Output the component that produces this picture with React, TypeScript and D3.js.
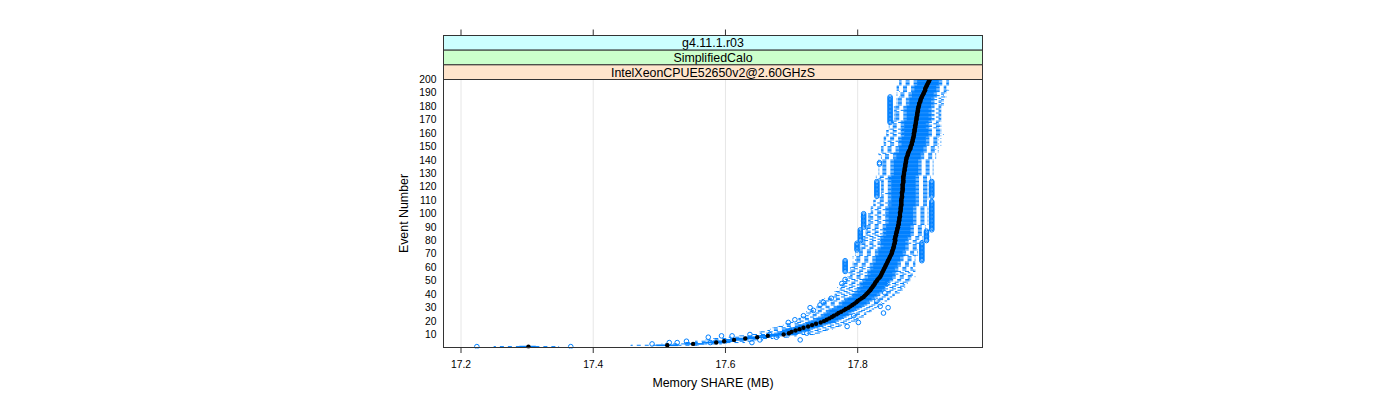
import React from "react";
import * as d3 from "d3";

// Median memory SHARE (MB) for event numbers 1..200
const medians: number[] = [
  17.302, 17.512, 17.551, 17.586, 17.598, 17.613, 17.630, 17.648, 17.664, 17.688,
  17.696, 17.700, 17.706, 17.712, 17.718, 17.725, 17.731, 17.737, 17.744, 17.749,
  17.753, 17.757, 17.761, 17.764, 17.768, 17.771, 17.775, 17.779, 17.782, 17.786,
  17.789, 17.792, 17.795, 17.798, 17.800, 17.803, 17.806, 17.809, 17.811, 17.813,
  17.815, 17.817, 17.819, 17.820, 17.822, 17.823, 17.825, 17.826, 17.827, 17.829,
  17.830, 17.832, 17.834, 17.835, 17.836, 17.837, 17.838, 17.839, 17.840, 17.841,
  17.842, 17.843, 17.844, 17.845, 17.846, 17.847, 17.848, 17.849, 17.850, 17.851,
  17.852, 17.852, 17.853, 17.854, 17.854, 17.855, 17.855, 17.856, 17.856, 17.857,
  17.856, 17.857, 17.857, 17.858, 17.858, 17.859, 17.859, 17.860, 17.860, 17.861,
  17.861, 17.862, 17.862, 17.862, 17.863, 17.863, 17.863, 17.864, 17.864, 17.864,
  17.864, 17.865, 17.865, 17.865, 17.865, 17.866, 17.866, 17.866, 17.866, 17.866,
  17.866, 17.867, 17.867, 17.867, 17.867, 17.867, 17.868, 17.868, 17.868, 17.868,
  17.868, 17.868, 17.869, 17.869, 17.869, 17.869, 17.869, 17.869, 17.870, 17.870,
  17.870, 17.871, 17.871, 17.871, 17.872, 17.872, 17.872, 17.873, 17.873, 17.873,
  17.874, 17.874, 17.875, 17.876, 17.876, 17.877, 17.878, 17.879, 17.880, 17.880,
  17.881, 17.882, 17.882, 17.883, 17.883, 17.884, 17.884, 17.885, 17.885, 17.885,
  17.886, 17.886, 17.886, 17.887, 17.887, 17.887, 17.888, 17.888, 17.888, 17.889,
  17.889, 17.889, 17.890, 17.890, 17.890, 17.891, 17.891, 17.891, 17.892, 17.892,
  17.893, 17.893, 17.894, 17.895, 17.895, 17.896, 17.897, 17.898, 17.899, 17.900,
  17.901, 17.902, 17.902, 17.903, 17.904, 17.905, 17.906, 17.907, 17.908, 17.909,
];

// Distances from the median, in 4 KB pages
const loSteps: number[] = [
  13,14,12,12,11,11,12,11,11,12, 11,12,11,11,12,12,11,12,11,11,
  11,12,12,11,11,12,13,12,11,12, 13,12,13,14,15,15,14,13,12,12,
  12,13,12,12,13,12,13,12,12,13, 12,13,13,12,12,13,13,13,13,13,
  13,13,13,13,13,13,14,14,14,14, 14,14,13,13,13,13,13,13,13,12,
  12,12,12,12,12,12,12,12,12,12, 12,12,12,12,12,12,12,12,12,12,
  11,11,11,11,11,11,11,11,11,11, 10,9,8,8,8,8,8,8,8,8,
  8,8,8,8,9,9,10,10,10,10, 10,10,10,10,10,10,9,9,10,10,
  10,10,10,11,11,11,11,11,11,11, 11,11,11,11,11,11,11,11,11,11,
  11,11,10,10,10,10,10,9,9,9, 9,9,9,9,9,9,9,9,9,9,
  9,9,9,9,9,9,9,10,10,10, 10,11,11,11,11,11,11,11,11,11,
];
const q1Steps: number[] = [
  3,4,3,4,4,3,4,4,3,4, 4,4,4,5,4,4,5,4,4,5,
  4,5,4,4,5,4,4,5,5,4, 5,4,5,5,5,5,5,4,4,5,
  4,5,4,5,4,4,5,4,5,4, 5,4,5,5,4,5,5,5,4,5,
  5,5,5,4,5,5,5,5,5,5, 5,5,5,5,5,4,5,5,5,4,
  5,4,5,4,5,4,4,5,4,4, 4,5,4,4,5,4,4,4,5,4,
  4,4,5,4,4,4,4,5,4,4, 4,4,4,4,5,4,4,4,4,4,
  4,4,4,4,4,5,4,4,4,4, 4,4,4,4,4,4,4,4,4,4,
  4,4,4,4,5,4,4,4,4,4, 4,4,4,5,4,4,4,4,4,5,
  4,4,5,4,4,4,4,5,4,4, 4,4,4,4,4,4,5,4,4,4,
  4,4,4,4,4,4,4,4,4,4, 4,4,4,4,4,4,4,4,4,4,
];
const q3Steps: number[] = [
  3,4,4,4,3,4,4,4,4,4, 4,4,4,4,4,4,4,4,5,4,
  4,4,4,4,4,4,4,4,4,4, 4,4,4,4,4,4,4,4,4,4,
  4,4,4,5,4,4,5,4,4,5, 5,5,4,4,5,4,5,4,4,4,
  4,4,4,4,4,4,4,4,5,4, 4,4,5,4,4,4,4,5,4,4,
  5,5,5,5,5,5,5,5,5,5, 5,5,5,5,5,5,5,5,5,5,
  5,5,5,5,5,5,5,5,5,5, 5,5,5,5,5,5,5,5,5,5,
  5,5,5,5,5,5,5,5,5,5, 5,5,5,5,5,5,5,5,5,5,
  5,5,5,5,5,5,5,5,5,5, 5,5,5,5,5,5,5,5,5,5,
  5,5,5,4,5,5,4,5,5,5, 5,4,5,5,4,5,5,4,5,5,
  4,5,4,4,5,4,4,5,4,4, 4,4,4,4,4,4,4,4,4,4,
];
const hiSteps: number[] = [
  12,12,11,11,11,11,11,12,11,12, 12,12,12,13,12,12,13,12,12,12,
  12,11,12,11,11,11,12,11,11,11, 11,11,11,10,11,11,11,11,11,11,
  12,11,12,12,13,12,12,13,12,13, 13,12,13,12,12,11,12,12,11,11,
  11,11,11,11,10,10,10,10,10,10, 10,10,10,10,10,10,10,10,10,11,
  11,11,11,11,11,11,11,11,11,11, 11,11,11,11,11,11,11,11,11,11,
  11,11,11,11,11,11,11,11,11,11, 10,10,10,10,10,10,10,10,10,10,
  10,10,10,10,11,11,11,11,11,11, 11,11,11,11,11,11,11,11,11,11,
  11,11,11,11,11,11,11,10,11,11, 11,10,11,11,10,11,10,10,11,10,
  10,10,10,9,10,10,9,9,10,9, 9,9,9,9,9,9,9,9,9,9,
  9,9,8,9,9,8,9,8,8,9, 8,9,8,8,8,8,8,8,8,8,
];

// Outliers repeated over consecutive events: [firstEvent, lastEvent, value]
const outlierRuns: [number, number, number][] = [
  [168, 187, 17.849], [137, 138, 17.833], [113, 124, 17.829], [113, 124, 17.912],
  [88, 109, 17.912], [80, 87, 17.904], [65, 78, 17.897], [90, 100, 17.809],
  [80, 88, 17.804], [73, 78, 17.799], [57, 65, 17.781],
];
// Single outliers: [event, value]
const outlierPoints: [number, number][] = [
  [1, 17.224], [1, 17.366], [3, 17.489], [4, 17.515], [4, 17.527], [5, 17.541],
  [4, 17.577], [8, 17.574], [9, 17.594], [9, 17.610], [10, 17.637], [4, 17.640],
  [6, 17.652], [10, 17.667], [8, 17.677], [13, 17.698], [6, 17.713], [11, 17.723],
  [19, 17.695], [21, 17.705], [24, 17.718], [28, 17.733], [30, 17.728], [32, 17.743],
  [34, 17.748], [37, 17.760], [48, 17.776], [51, 17.781], [16, 17.784], [19, 17.801],
  [24, 17.794], [26, 17.839], [30, 17.846], [31, 17.834], [35, 17.829], [41, 17.841],
  [48, 17.844],
];

const xTicks = [17.2, 17.4, 17.6, 17.8];
const yTicks = [10, 20, 30, 40, 50, 60, 70, 80, 90, 100, 110, 120, 130, 140, 150, 160, 170, 180, 190, 200];
const stripLabels = ["g4.11.1.r03", "SimplifiedCalo", "IntelXeonCPUE52650v2@2.60GHzS"];
const stripColors = ["#ccffff", "#ccffcc", "#ffe5cc"];
const xTitle = "Memory SHARE (MB)";
const yTitle = "Event Number";

const W = 1400;
const H = 400;
const PL = 443.5, PR = 982.5, PT = 79.5, PB = 347.5;
const STRIP_TOP = 35.5;
const FONT = "'Liberation Sans', Arial, Helvetica, sans-serif";
const BLUE = "#0080ff";
const PAGE = 4 / 1024;

export default function App() {
  const x = d3.scaleLinear().domain([17.2, 17.8]).range([461, 857.7]);
  const y = d3.scaleLinear().domain([1, 200]).range([346.6, 79.5]);
  const boxH = 0.5 * Math.abs(y(1) - y(2));
  const qz = (v: number) => Math.round(v / PAGE) * PAGE;

  const stats = medians.map((m, i) => ({
    ev: i + 1,
    med: m,
    lo: qz(m - loSteps[i] * PAGE),
    q1: qz(m - q1Steps[i] * PAGE),
    q3: qz(m + q3Steps[i] * PAGE),
    hi: qz(m + hiSteps[i] * PAGE),
  }));

  const outliers: [number, number][] = [...outlierPoints];
  outlierRuns.forEach(([a, b, v]) => {
    for (let e = a; e <= b; e++) outliers.push([e, v]);
  });

  const stripH = (PT - STRIP_TOP) / 3;

  return (
    <svg width={W} height={H} style={{ position: "absolute", left: 0, top: 0 }} fontFamily={FONT}>
      <rect x={0} y={0} width={W} height={H} fill="#fff" />
      <defs>
        <clipPath id="panelClip">
          <rect x={PL} y={PT} width={PR - PL} height={PB - PT + 1} />
        </clipPath>
      </defs>
      {/* grid */}
      {xTicks.map((t) => (
        <line key={"g" + t} x1={x(t)} x2={x(t)} y1={PT} y2={PB} stroke="#e6e6e6" strokeWidth={1} />
      ))}
      <g clipPath="url(#panelClip)">
        {stats.map((s) => (
          <g key={"w" + s.ev}>
            <line x1={x(s.q1)} x2={x(s.lo)} y1={y(s.ev)} y2={y(s.ev)} stroke={BLUE} strokeWidth={1} strokeDasharray="4,4" />
            <line x1={x(s.q3)} x2={x(s.hi)} y1={y(s.ev)} y2={y(s.ev)} stroke={BLUE} strokeWidth={1} strokeDasharray="4,4" />
            <line x1={x(s.lo)} x2={x(s.lo)} y1={y(s.ev) - boxH / 2} y2={y(s.ev) + boxH / 2} stroke={BLUE} strokeWidth={1} />
            <line x1={x(s.hi)} x2={x(s.hi)} y1={y(s.ev) - boxH / 2} y2={y(s.ev) + boxH / 2} stroke={BLUE} strokeWidth={1} />
          </g>
        ))}
        {stats.map((s) => (
          <rect key={"b" + s.ev} x={x(s.q1)} y={y(s.ev) - boxH / 2} width={x(s.q3) - x(s.q1)} height={boxH}
            fill="none" stroke={BLUE} strokeWidth={1} />
        ))}
        {outliers.map(([e, v], i) => (
          <circle key={"o" + i} cx={x(v)} cy={y(e)} r={2.3} fill="none" stroke={BLUE} strokeWidth={1} />
        ))}
        {stats.map((s) => (
          <circle key={"m" + s.ev} cx={x(s.med)} cy={y(s.ev)} r={2.2} fill="#000" />
        ))}
      </g>
      {/* panel border */}
      <rect x={PL} y={PT} width={PR - PL} height={PB - PT} fill="none" stroke="#333" strokeWidth={1} />
      {/* strips */}
      {stripLabels.map((lab, i) => {
        const top = STRIP_TOP + i * stripH;
        return (
          <g key={"s" + i}>
            <rect x={PL} y={top} width={PR - PL} height={stripH} fill={stripColors[i]} stroke="#333" strokeWidth={1} />
            <text x={(PL + PR) / 2} y={top + stripH / 2 + 0.5} textAnchor="middle" dominantBaseline="central" fontSize={12.4} fill="#000">
              {lab}
            </text>
          </g>
        );
      })}
      {/* bottom axis */}
      {xTicks.map((t) => (
        <g key={"xt" + t}>
          <line x1={x(t)} x2={x(t)} y1={PB} y2={PB + 5.5} stroke="#333" strokeWidth={1} />
          <line x1={x(t)} x2={x(t)} y1={STRIP_TOP} y2={STRIP_TOP - 6} stroke="#333" strokeWidth={1} />
          <text x={x(t)} y={367.7} textAnchor="middle" fontSize={10.3} fill="#000">{t.toFixed(1)}</text>
        </g>
      ))}
      {/* left axis labels */}
      {yTicks.map((t) => (
        <text key={"yt" + t} x={436.5} y={y(t)} textAnchor="end" dominantBaseline="central" fontSize={10.3} fill="#000">
          {t}
        </text>
      ))}
      <text x={(PL + PR) / 2} y={387} textAnchor="middle" fontSize={12.4} fill="#000">{xTitle}</text>
      <text transform={`translate(408, ${(PT + PB) / 2}) rotate(-90)`} textAnchor="middle" fontSize={12.4} fill="#000">{yTitle}</text>
    </svg>
  );
}
